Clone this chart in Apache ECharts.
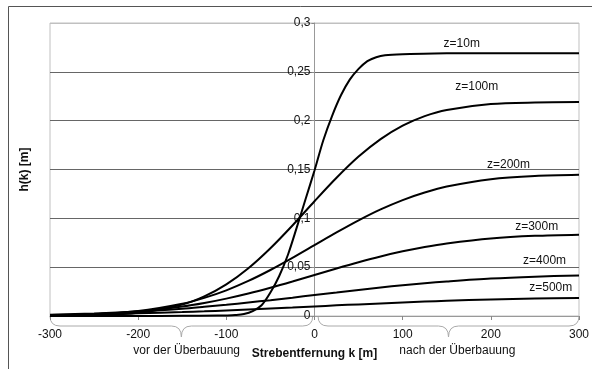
<!DOCTYPE html>
<html>
<head>
<meta charset="utf-8">
<script src="https://cdn.jsdelivr.net/npm/echarts@6/dist/echarts.min.js"></script>
<style>
html,body{margin:0;padding:0;background:#fff;}
#chart{width:592px;height:369px;}
</style>
</head>
<body>
<div id="chart"></div>
<script>
// ---- data ----
const kValues = [-300,-250,-200,-150,-125,-100,-75,-50,-25,0,25,50,75,100,125,150,200,250,300];
const k10 = [-300,-200,-150,-110,-100,-90,-80,-70,-60,-50,-40,-30,-20,-10,0,10,20,30,40,50,60,70,80,100,150,200,300];
const z10 = [0,0,0.0002,0.0004,0.0006,0.001,0.002,0.005,0.011,0.024,0.041,0.063,0.091,0.120,0.149,0.180,0.205,0.226,0.242,0.253,0.261,0.265,0.267,0.268,0.269,0.269,0.269];
const z100 = [0.0001,0.0007,0.0032,0.0118,0.0201,0.0324,0.0489,0.0694,0.0927,0.1175,0.1415,0.1632,0.1811,0.1949,0.2047,0.2110,0.2170,0.2186,0.2190];
const z200 = [0.0005,0.0017,0.0050,0.0125,0.0186,0.0263,0.0359,0.0471,0.0595,0.0725,0.0855,0.0979,0.1091,0.1187,0.1264,0.1325,0.1400,0.1433,0.1445];
const z300 = [0.0007,0.0019,0.0046,0.0097,0.0133,0.0178,0.0230,0.0289,0.0353,0.0420,0.0487,0.0551,0.0610,0.0662,0.0707,0.0743,0.0794,0.0821,0.0833];
const z400 = [0.0013,0.0025,0.0045,0.0075,0.0094,0.0114,0.0138,0.0162,0.0188,0.0215,0.0241,0.0267,0.0292,0.0315,0.0336,0.0354,0.0384,0.0403,0.0415];
const z500 = [0.0010,0.0016,0.0027,0.0040,0.0048,0.0057,0.0067,0.0077,0.0087,0.0098,0.0109,0.0119,0.0129,0.0139,0.0148,0.0156,0.0169,0.0179,0.0185];
const seriesNames = ['z=10m','z=100m','z=200m','z=300m','z=400m','z=500m'];
const labelAnchors = [[167,0.2785],[184,0.2346],[220,0.1546],[252,0.0914],[261,0.0563],[268,0.0293]];
const yTicks = [0,0.05,0.1,0.15,0.2,0.25,0.3];
const xTicks = [-300,-200,-100,0,100,200,300];
const braceTexts = ['vor der Überbauung','nach der Überbauung'];
const xTitle = 'Strebentfernung k [m]';
const yTitle = 'h(k) [m]';

const FONT = '"Liberation Sans", Arial, sans-serif';
function pairs(ks, hs){ return ks.map((k,i)=>[k,hs[i]]); }
const allSeries = [pairs(k10,z10),pairs(kValues,z100),pairs(kValues,z200),pairs(kValues,z300),pairs(kValues,z400),pairs(kValues,z500)];

const GRID = {left:50,right:13,top:23,bottom:53};
const chart = echarts.init(document.getElementById('chart'), null, {renderer:'canvas'});
function buildOption(yOffset){
  return {
    animation:false,
    backgroundColor:'#fff',
    grid:Object.assign({show:true,borderColor:'#c0c0c0',borderWidth:1,backgroundColor:'transparent'},GRID),
    xAxis:{
      type:'value',min:-300,max:300,interval:100,
      axisLine:{show:true,onZero:false,lineStyle:{color:'#999',width:1}},
      axisTick:{show:true,length:4,lineStyle:{color:'#888'}},
      axisLabel:{margin:13,fontSize:12,color:'#111',fontFamily:FONT,
        formatter:v=>{const i=xTicks.indexOf(Math.round(v));return i>=0?String(xTicks[i]):'';}},
      splitLine:{show:false}
    },
    yAxis:{
      type:'value',min:0,max:0.3,interval:0.05,offset:yOffset,
      axisLine:{show:true,onZero:false,lineStyle:{color:'#999',width:1}},
      axisTick:{show:true,length:3,lineStyle:{color:'#888'}},
      axisLabel:{margin:4,fontSize:12,color:'#111',fontFamily:FONT,
        formatter:v=>{const i=yTicks.findIndex(t=>Math.abs(t-v)<1e-9);return i>=0?String(yTicks[i]).replace('.',','):'';}},
      splitLine:{show:true,lineStyle:{color:['#999','#666','#666','#666','#666','#666','#c0c0c0'],width:1}}
    },
    series: allSeries.map((d,i)=>({
      name:seriesNames[i],type:'line',data:d,showSymbol:false,smooth:0.3,
      lineStyle:{color:'#000',width:2},z:3
    }))
  };
}
chart.setOption(buildOption(0));
function px(p){ return chart.convertToPixel({gridIndex:0}, p); }
const zeroX = px([0,0])[0];
const leftX = px([-300,0])[0];
chart.setOption({yAxis:{offset:-(zeroX-leftX)}});

const g = [];
g.push({type:'rect',shape:{x:8.5,y:6.5,width:700,height:500},style:{fill:null,stroke:'#555',lineWidth:1},silent:true,z:0});
labelAnchors.forEach((a,i)=>{
  const p = px(a);
  g.push({type:'text',x:p[0],y:p[1],style:{text:seriesNames[i],font:'12px '+FONT,fill:'#111',textAlign:'center',textVerticalAlign:'middle'},z:10});
});
// braces
const y0 = px([0,0])[1];
const braceStyle = {fill:null,stroke:'#aaa',lineWidth:1};
function brace(kA,kB){
  const a = px([kA,0])[0], b = px([kB,0])[0], m = (a+b)/2;
  const y1 = y0+10, y2 = y0+21;
  return [
    {type:'bezierCurve',shape:{x1:a,y1:y0,cpx1:a,cpy1:y1,x2:a+10,y2:y1},style:braceStyle},
    {type:'line',shape:{x1:a+10,y1:y1,x2:m-10,y2:y1},style:braceStyle},
    {type:'bezierCurve',shape:{x1:m-10,y1:y1,cpx1:m,cpy1:y1,x2:m,y2:y2},style:braceStyle},
    {type:'bezierCurve',shape:{x1:m,y1:y2,cpx1:m,cpy1:y1,x2:m+10,y2:y1},style:braceStyle},
    {type:'line',shape:{x1:m+10,y1:y1,x2:b-10,y2:y1},style:braceStyle},
    {type:'bezierCurve',shape:{x1:b-10,y1:y1,cpx1:b,cpy1:y1,x2:b,y2:y0},style:braceStyle}
  ];
}
brace(-300,-2).concat(brace(4,300)).forEach(e=>g.push(e));
const lp = px([-145,0]), rp = px([162,0]), cp = px([0,0]);
g.push({type:'text',x:lp[0],y:y0+35,style:{text:braceTexts[0],font:'12px '+FONT,fill:'#111',textAlign:'center',textVerticalAlign:'middle'}});
g.push({type:'text',x:rp[0],y:y0+35,style:{text:braceTexts[1],font:'12px '+FONT,fill:'#111',textAlign:'center',textVerticalAlign:'middle'}});
g.push({type:'text',x:cp[0],y:y0+38,style:{text:xTitle,font:'bold 12px '+FONT,fill:'#111',textAlign:'center',textVerticalAlign:'middle'}});
const midY = (px([0,0])[1]+px([0,0.3])[1])/2;
g.push({type:'text',x:25,y:midY,rotation:Math.PI/2,style:{text:yTitle,font:'bold 12px '+FONT,fill:'#111',textAlign:'center',textVerticalAlign:'middle'}});
chart.setOption({graphic:g});
</script>
</body>
</html>
